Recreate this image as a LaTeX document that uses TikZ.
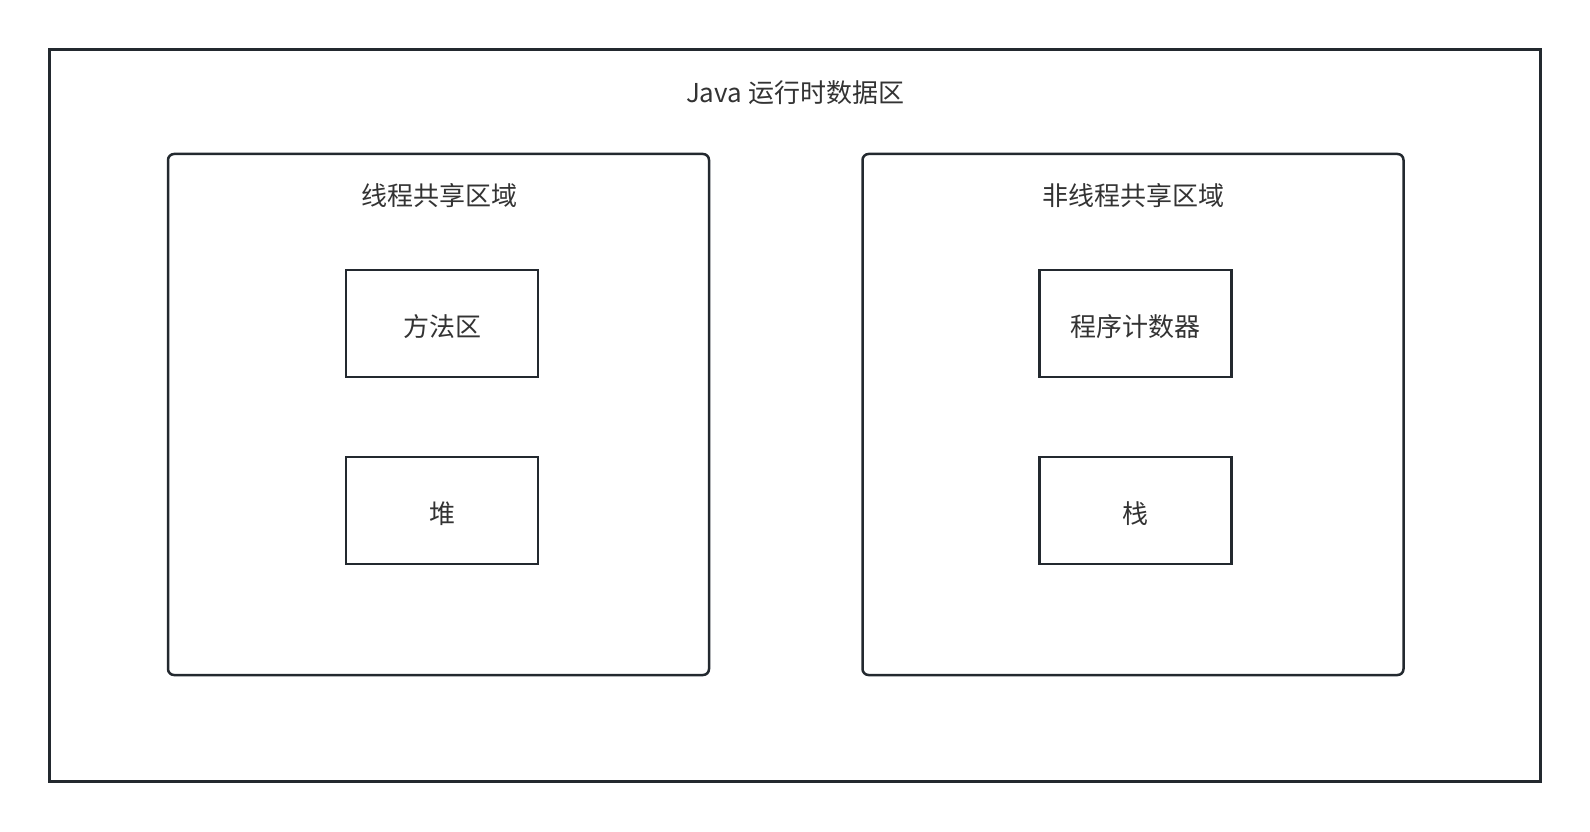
\documentclass[tikz,border=0pt]{standalone}
\usepackage{fontspec}
\usepackage{xcolor}
\usepackage{tikz}
\newfontfamily\cjk{Noto Sans CJK SC}
\definecolor{C23292F}{HTML}{23292F}
\definecolor{C333333}{HTML}{333333}

\begin{document}
\begin{tikzpicture}[inner sep=0pt,
  outerbox/.style={draw=C23292F, line width=2.5pt, minimum width=1491pt, minimum height=732pt},
  groupbox/.style={draw=C23292F, line width=2.5pt, rounded corners=6pt, minimum width=541pt, minimum height=521pt},
  areabox/.style={draw=C23292F, line width=2.5pt, minimum width=192pt, minimum height=107pt},
  label/.style={text=C333333, font=\cjk\fontsize{26}{30}\selectfont}]
\useasboundingbox (0pt,0pt) rectangle (1590pt,-832pt);
\node (n0) [outerbox, at={(795pt,-415.5pt)}] {};
\node (n1) [groupbox, at={(438.5pt,-414.5pt)}] {};
\node (n2) [groupbox, at={(1133pt,-414.5pt)}] {};
\node (n3) [areabox, at={(442pt,-323.5pt)}] {};
\node (n4) [areabox, at={(442pt,-510.5pt)}] {};
\node (n5) [areabox, at={(1135.5pt,-323.5pt)}] {};
\node (n6) [areabox, at={(1135.5pt,-510.5pt)}] {};
\node (t0) [label, at={(795pt,-93pt)}] {Java 运行时数据区};
\node (t1) [label, at={(439pt,-196pt)}] {线程共享区域};
\node (t2) [label, at={(1133pt,-196pt)}] {非线程共享区域};
\node (t3) [label, yshift=-3pt] at (n3) {方法区};
\node (t4) [label, yshift=-3pt] at (n4) {堆};
\node (t5) [label, yshift=-3pt] at (n5) {程序计数器};
\node (t6) [label, yshift=-3pt] at (n6) {栈};
\end{tikzpicture}
\end{document}
